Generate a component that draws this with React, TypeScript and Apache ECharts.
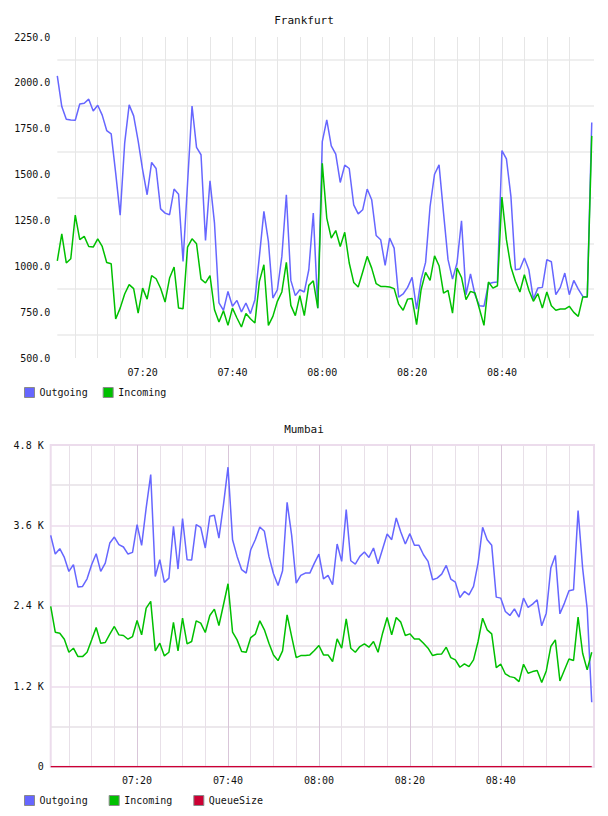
import React, { useEffect, useRef } from 'react';
import * as echarts from 'echarts';

const FONT = '"DejaVu Sans Mono", monospace';

// One sample per minute, first sample at 07:01 (minutes counted from 07:00)
const firstSampleMinute = 1;

const frankfurtOutgoing = [
  2038, 1871, 1802, 1798, 1796, 1885, 1889, 1911, 1847, 1878,
  1824, 1740, 1722, 1508, 1279, 1671, 1880, 1820, 1684, 1526,
  1390, 1566, 1533, 1313, 1290, 1281, 1421, 1393, 1027, 1451,
  1874, 1648, 1608, 1141, 1466, 1235, 800, 760, 863, 782,
  814, 751, 800, 742, 818, 1054, 1299, 1136, 827, 872,
  1054, 1390, 923, 840, 872, 860, 981, 1290, 772, 1680,
  1798, 1657, 1611, 1457, 1551, 1533, 1335, 1286, 1308, 1421,
  1363, 1168, 1145, 1005, 1154, 1099, 832, 849, 885, 940,
  767, 927, 1021, 1326, 1502, 1553, 1290, 1036, 930, 1018,
  1248, 845, 958, 845, 785, 782, 905, 912, 914, 1631,
  1586, 1381, 981, 985, 1045, 981, 821, 881, 885, 1036,
  1025, 845, 885, 963, 845, 923, 876, 836, 832, 1784,
];

const frankfurtIncoming = [
  1030, 1177, 1018, 1041, 1279, 1145, 1163, 1108, 1105, 1150,
  1108, 1021, 1014, 713, 772, 849, 900, 878, 745, 881,
  821, 949, 932, 880, 805, 936, 996, 772, 769, 1105,
  1150, 1123, 930, 909, 949, 763, 696, 758, 678, 772,
  718, 669, 742, 714, 691, 918, 1008, 678, 727, 809,
  860, 1021, 787, 731, 840, 731, 896, 921, 772, 1562,
  1263, 1154, 1195, 1108, 1185, 1018, 912, 887, 969, 1054,
  990, 905, 890, 890, 887, 878, 794, 760, 821, 825,
  682, 872, 967, 923, 1057, 1003, 854, 869, 745, 990,
  939, 818, 863, 854, 767, 678, 914, 881, 894, 1377,
  1145, 996, 918, 860, 954, 869, 809, 851, 772, 860,
  785, 760, 767, 767, 782, 749, 727, 832, 832, 1711,
];

const mumbaiOutgoing = [
  3452, 3173, 3253, 3123, 2914, 3014, 2680, 2690, 2804, 3014,
  3178, 2914, 3038, 3337, 3427, 3313, 3278, 3173, 3198, 3612,
  3303, 3861, 4359, 2839, 3088, 2750, 2814, 3587, 2949, 3701,
  3088, 3083, 3612, 3572, 3263, 3736, 3751, 3412, 3911, 4469,
  3387, 3138, 2939, 2889, 3238, 3387, 3577, 3512, 3138, 2879,
  2705, 2924, 3945, 3452, 2740, 2854, 2889, 2889, 3038, 3173,
  2804, 2854, 2715, 3323, 3063, 3836, 3073, 3024, 3138, 3203,
  3123, 3263, 3029, 3248, 3472, 3387, 3711, 3502, 3323, 3477,
  3303, 3303, 3163, 3063, 2789, 2814, 2874, 3004, 2799, 2754,
  2525, 2615, 2565, 2690, 3038, 3572, 3387, 3303, 2530, 2515,
  2316, 2256, 2356, 2231, 2515, 2376, 2426, 2490, 2102, 2291,
  2964, 3153, 2281, 2441, 2625, 2640, 3821, 2964, 2356, 961,
];

const mumbaiIncoming = [
  2391, 2007, 1992, 1902, 1708, 1768, 1643, 1643, 1708, 1892,
  2077, 1843, 1853, 1977, 2092, 1967, 1957, 1902, 1942, 2181,
  1967, 2366, 2466, 1728, 1843, 1653, 1708, 2152, 1728, 2216,
  1833, 1868, 2176, 2142, 2002, 2256, 2351, 2107, 2416, 2730,
  2007, 1892, 1718, 1708, 1927, 1977, 2176, 2042, 1843, 1668,
  1583, 1728, 2266, 1942, 1628, 1658, 1658, 1668, 1733, 1808,
  1668, 1668, 1569, 1907, 1768, 2206, 1768, 1708, 1793, 1833,
  1783, 1868, 1708, 1992, 2226, 1967, 2226, 2157, 1957, 1982,
  1907, 1907, 1843, 1768, 1658, 1678, 1683, 1783, 1628, 1593,
  1484, 1534, 1494, 1593, 1868, 2216, 2042, 1982, 1479, 1529,
  1384, 1344, 1329, 1270, 1529, 1394, 1419, 1434, 1255, 1429,
  1793, 1892, 1280, 1444, 1608, 1584, 2231, 1693, 1444, 1708,
];

const mumbaiQueueSize = [
  0, 0, 0, 0, 0, 0, 0, 0, 0, 0,
  0, 0, 0, 0, 0, 0, 0, 0, 0, 0,
  0, 0, 0, 0, 0, 0, 0, 0, 0, 0,
  0, 0, 0, 0, 0, 0, 0, 0, 0, 0,
  0, 0, 0, 0, 0, 0, 0, 0, 0, 0,
  0, 0, 0, 0, 0, 0, 0, 0, 0, 0,
  0, 0, 0, 0, 0, 0, 0, 0, 0, 0,
  0, 0, 0, 0, 0, 0, 0, 0, 0, 0,
  0, 0, 0, 0, 0, 0, 0, 0, 0, 0,
  0, 0, 0, 0, 0, 0, 0, 0, 0, 0,
  0, 0, 0, 0, 0, 0, 0, 0, 0, 0,
  0, 0, 0, 0, 0, 0, 0, 0, 0, 0,
];

// labelled time ticks and the 5-minute grid marks (minutes after 07:00)
const timeTickLabels = ['07:20', '07:40', '08:00', '08:20', '08:40'];
const gridMinuteMarks = [
  5, 10, 15, 20, 25, 30, 35, 40, 45, 50, 55, 60,
  65, 70, 75, 80, 85, 90, 95, 100, 105, 110, 115,
];

const COLORS = {
  Outgoing: '#6666ff',
  Incoming: '#00c000',
  QueueSize: '#cc0033',
};

const toMinutes = (label: string) => {
  const [h, m] = label.split(':').map(Number);
  return (h - 7) * 60 + m;
};

const toClock = (minutes: number) => {
  const h = 7 + Math.floor(minutes / 60);
  const m = Math.round(minutes % 60);
  return `${String(h).padStart(2, '0')}:${String(m).padStart(2, '0')}`;
};

const withTimes = (values: number[]) =>
  values.map((v, i) => [firstSampleMinute + i, v]);

const X_MIN = firstSampleMinute;
const X_MAX = 120.5;

const lineSeries = (name: keyof typeof COLORS, values: number[], gridIndex: number) => ({
  name,
  type: 'line',
  xAxisIndex: gridIndex,
  yAxisIndex: gridIndex,
  data: withTimes(values),
  showSymbol: false,
  symbol: 'none',
  smooth: false,
  lineStyle: { color: COLORS[name], width: 1.5 },
  itemStyle: { color: COLORS[name] },
  emphasis: { disabled: true },
});

export default function App() {
  const ref = useRef<HTMLDivElement>(null);

  useEffect(() => {
    if (!ref.current) return;
    const chart = echarts.init(ref.current, undefined, { renderer: 'svg' });

    const labelTicks = timeTickLabels.map(toMinutes);

    const xAxisBase = (gridIndex: number, splitColors: string[]) => ({
      type: 'value',
      gridIndex,
      min: X_MIN,
      max: X_MAX,
      axisLine: { show: false },
      axisTick: { show: false, customValues: gridMinuteMarks },
      axisLabel: {
        customValues: labelTicks,
        formatter: (v: number) => toClock(v),
        fontFamily: FONT,
        fontSize: 10,
        color: '#111',
        margin: 9,
      },
      splitLine: { show: true, lineStyle: { color: splitColors, width: 1 } },
    });

    const option = {
      animation: false,
      backgroundColor: '#ffffff',
      textStyle: { fontFamily: FONT },
      title: [
        {
          text: 'Frankfurt',
          left: 'center',
          top: 15,
          padding: 0,
          textStyle: { fontFamily: FONT, fontSize: 11, fontWeight: 'normal', color: '#111' },
        },
        {
          text: 'Mumbai',
          left: 'center',
          top: 424,
          padding: 0,
          textStyle: { fontFamily: FONT, fontSize: 11, fontWeight: 'normal', color: '#111' },
        },
      ],
      legend: [
        {
          data: ['Outgoing', 'Incoming'],
          left: 24,
          top: 387,
          padding: 0,
          icon: 'rect',
          itemWidth: 10,
          itemHeight: 10,
          itemGap: 15,
          selectedMode: false,
          itemStyle: { borderColor: '#8a8a8a', borderWidth: 1 },
          textStyle: { fontFamily: FONT, fontSize: 10, color: '#111' },
        },
        {
          data: ['Outgoing', 'Incoming', 'QueueSize'],
          left: 24,
          top: 795,
          padding: 0,
          icon: 'rect',
          itemWidth: 10,
          itemHeight: 10,
          itemGap: 21,
          selectedMode: false,
          itemStyle: { borderColor: '#8a8a8a', borderWidth: 1 },
          textStyle: { fontFamily: FONT, fontSize: 10, color: '#111' },
        },
      ],
      grid: [
        { left: 57.3, top: 37, width: 536.7, height: 321, show: false },
        {
          left: 50.7,
          top: 445,
          width: 543.3,
          height: 321.7,
          show: true,
          borderColor: '#ecdcec',
          borderWidth: 2,
          backgroundColor: 'transparent',
        },
      ],
      xAxis: [
        xAxisBase(0, ['#e6e6e6']),
        xAxisBase(1, ['#e8e0e8', '#e8e0e8', '#e8e0e8', '#d9c6d9']),
      ],
      yAxis: [
        {
          type: 'value',
          gridIndex: 0,
          min: 500,
          max: 2250,
          interval: 125,
          axisLine: { show: false },
          axisTick: { show: false },
          axisLabel: {
            formatter: (v: number) => ((v - 500) % 250 === 0 ? v.toFixed(1) : ''),
            fontFamily: FONT,
            fontSize: 10,
            color: '#111',
            margin: 7,
          },
          splitLine: {
            show: true,
            lineStyle: { color: ['rgba(0,0,0,0)', '#efefef'], width: 2 },
          },
        },
        {
          type: 'value',
          gridIndex: 1,
          min: 0,
          max: 4800,
          interval: 600,
          axisLine: { show: false },
          axisTick: { show: false },
          axisLabel: {
            formatter: (v: number) =>
              v % 1200 === 0 ? (v === 0 ? '0' : `${(v / 1000).toFixed(1)} K`) : '',
            fontFamily: FONT,
            fontSize: 10,
            color: '#111',
            margin: 7,
          },
          splitLine: {
            show: true,
            lineStyle: { color: ['#ecdcec', '#e6e0e6'], width: 1.5 },
          },
        },
      ],
      series: [
        lineSeries('Outgoing', frankfurtOutgoing, 0),
        lineSeries('Incoming', frankfurtIncoming, 0),
        lineSeries('Outgoing', mumbaiOutgoing, 1),
        lineSeries('Incoming', mumbaiIncoming, 1),
        lineSeries('QueueSize', mumbaiQueueSize, 1),
      ],
    };

    chart.setOption(option as any);
    return () => chart.dispose();
  }, []);

  return (
    <div
      ref={ref}
      style={{ position: 'absolute', left: 0, top: 0, width: 608, height: 816, background: '#fff' }}
    />
  );
}
